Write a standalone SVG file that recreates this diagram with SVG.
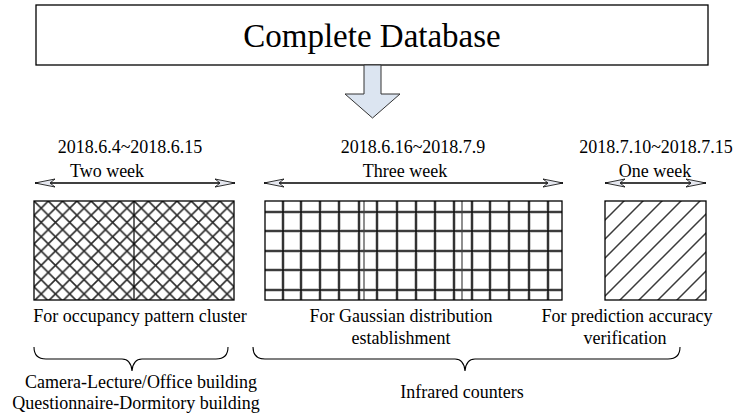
<svg xmlns="http://www.w3.org/2000/svg" width="743" height="416" viewBox="0 0 743 416">
<style>
text{font-family:"Liberation Serif","Times New Roman",serif;fill:#000;text-anchor:middle}
.lbl{font-size:18px}
.title{font-size:33px}
.box{fill:none;stroke:#000;stroke-width:1.3}
.dim{stroke:#000;stroke-width:1.6;fill:none;marker-start:url(#ah);marker-end:url(#ah)}
.halo{stroke:#999;stroke-width:3.6}
.grid{stroke:#111;stroke-width:1.6}
.seam{stroke:#444;stroke-width:1.2}
.brace{fill:none;stroke:#000;stroke-width:1.1}
</style>
<defs>
<marker id="ah" viewBox="-21 -5 22 10" refX="0" refY="0" markerWidth="22" markerHeight="10" markerUnits="userSpaceOnUse" orient="auto-start-reverse">
<path d="M0,0 L-20,-4 L-15,0 L-20,4 Z" fill="#e4e6ee" stroke="#000" stroke-width="0.8"/>
</marker>
<pattern id="cross" patternUnits="userSpaceOnUse" x="34" y="201" width="14.3" height="14.3">
<path d="M0,0 L14.3,14.3 M14.3,0 L0,14.3" stroke="#2a2a2a" stroke-width="1.6"/>
</pattern>
<pattern id="diag" patternUnits="userSpaceOnUse" x="605" y="201" width="19" height="19">
<path d="M-1,20 L20,-1 M-10,10 L10,-10 M9,29 L29,9" stroke="#3a3a3a" stroke-width="1.5"/>
</pattern>
</defs>

<g id="database">
<rect x="36" y="5" width="672" height="60" class="box"/>
<text x="372" y="47" class="title">Complete Database</text>
</g>

<g id="connectors">
<path d="M364,65 L381,65 L381,94 L400,94 L372.5,118 L345,94 L364,94 Z" fill="#dce5f1" stroke="#333" stroke-width="1"/>
<line x1="35" y1="183" x2="235" y2="183" class="dim"/>
<line x1="264" y1="183" x2="563" y2="183" class="dim"/>
<line x1="605" y1="183" x2="706" y2="183" class="dim"/>
<path class="brace" d="M34,347 Q34,359 46,359 L122,359 Q131,359 132,371 Q133,359 142,359 L216,359 Q228,359 228,347"/>
<path class="brace" d="M253,347 Q253,359 265,359 L455,359 Q464,359 465,371 Q466,359 475,359 L668,359 Q680,359 680,347"/>
</g>

<g id="period1">
<text x="130" y="153" class="lbl">2018.6.4~2018.6.15</text>
<text x="107" y="177" class="lbl">Two week</text>
<rect x="34" y="201" width="200" height="99" fill="url(#cross)"/>
<line x1="134" y1="201" x2="134" y2="300" stroke="#000" stroke-width="1.2"/>
<rect x="34" y="201" width="200" height="99" class="box"/>
<text x="140" y="322" class="lbl">For occupancy pattern cluster</text>
</g>

<g id="period2">
<text x="413" y="153" class="lbl">2018.6.16~2018.7.9</text>
<text x="405" y="177" class="lbl">Three week</text>
<g id="gridlines">
<path class="halo" d="M283,201V300M301,201V300M320,201V300M339,201V300M359,201V300M377,201V300M397,201V300M416,201V300M435,201V300M454,201V300M472,201V300M490,201V300M509,201V300M529,201V300M548,201V300M265,212H562M265,231H562M265,251H562M265,270H562M265,290H562" stroke-opacity="0.6"/>
<path class="grid" d="M283,201V300M301,201V300M320,201V300M339,201V300M359,201V300M377,201V300M397,201V300M416,201V300M435,201V300M454,201V300M472,201V300M490,201V300M509,201V300M529,201V300M548,201V300M265,212H562M265,231H562M265,251H562M265,270H562M265,290H562"/>
</g>
<line x1="364" y1="201" x2="364" y2="300" class="seam"/>
<line x1="462" y1="201" x2="462" y2="300" class="seam"/>
<rect x="265" y="201" width="297" height="99" class="box"/>
<text x="401" y="322" class="lbl">For Gaussian distribution</text>
<text x="401" y="344" class="lbl">establishment</text>
</g>

<g id="period3">
<text x="656" y="153" class="lbl">2018.7.10~2018.7.15</text>
<text x="655" y="177" class="lbl">One week</text>
<rect x="605" y="201" width="101" height="99" fill="url(#diag)"/>
<rect x="605" y="201" width="101" height="99" class="box"/>
<text x="627" y="322" class="lbl">For prediction accuracy</text>
<text x="625" y="344" class="lbl">verification</text>
</g>

<g id="sources">
<text x="141" y="388" class="lbl">Camera-Lecture/Office building</text>
<text x="136" y="409" class="lbl">Questionnaire-Dormitory building</text>
<text x="462" y="398" class="lbl">Infrared counters</text>
</g>
</svg>
